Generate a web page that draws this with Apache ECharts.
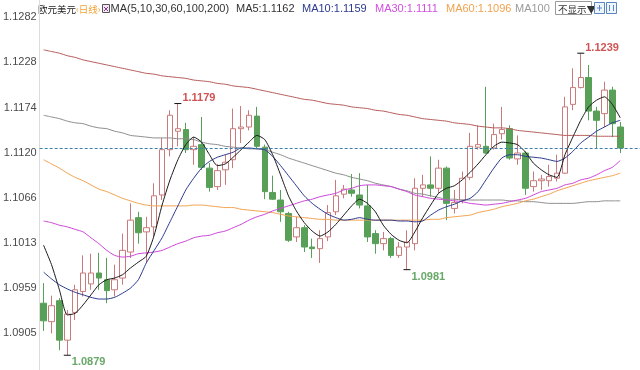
<!DOCTYPE html>
<html><head><meta charset="utf-8">
<script src="https://cdn.jsdelivr.net/npm/echarts@6/dist/echarts.min.js"></script>
<style>html,body{margin:0;padding:0;background:#fff}#c{width:640px;height:370px}</style>
</head><body><div id="c"></div>
<script>
// ---- data (EUR/USD daily) ----
const opens  = [1.0941,1.0919,1.0944,1.0897,1.0930,1.0955,1.0964,1.0977,1.0969,1.0957,1.0971,1.1002,1.1043,1.1026,1.1032,1.1070,1.1124,1.1146,1.1148,1.1124,1.1130,1.1102,1.1080,1.1100,1.1112,1.1149,1.1151,1.1164,1.1127,1.1073,1.1064,1.1048,1.1020,1.1031,1.1008,1.1006,1.1020,1.1050,1.1071,1.1076,1.1070,1.1057,1.1024,1.1012,1.1018,1.0998,1.1008,1.1012,1.1078,1.1082,1.1078,1.1102,1.1054,1.1064,1.1091,1.1127,1.1128,1.1126,1.1143,1.1149,1.1113,1.1120,1.1080,1.1087,1.1087,1.1090,1.1096,1.1178,1.1198,1.1210,1.1170,1.1167,1.1195,1.1151];
const closes = [1.0920,1.0938,1.0897,1.0928,1.0957,1.0977,1.0977,1.0971,1.0956,1.0969,1.1004,1.1040,1.1025,1.1031,1.1069,1.1124,1.1165,1.1149,1.1124,1.1128,1.1103,1.1079,1.1099,1.1109,1.1149,1.1151,1.1165,1.1128,1.1074,1.1065,1.1050,1.1016,1.1031,1.1008,1.1006,1.1018,1.1049,1.1069,1.1077,1.1072,1.1058,1.1020,1.1012,1.1018,1.0998,1.1008,1.1014,1.1078,1.1082,1.1078,1.1102,1.1060,1.1061,1.1090,1.1128,1.1130,1.1120,1.1142,1.1148,1.1114,1.1120,1.1078,1.1087,1.1089,1.1092,1.1096,1.1175,1.1198,1.1210,1.1170,1.1159,1.1195,1.1155,1.1126];
const highs  = [1.0965,1.0950,1.0947,1.0933,1.0963,1.0998,1.1000,1.1001,1.0995,1.0987,1.1024,1.1060,1.1050,1.1044,1.1084,1.1138,1.1171,1.1179,1.1156,1.1139,1.1163,1.1108,1.1107,1.1118,1.1173,1.1176,1.1171,1.1175,1.1130,1.1093,1.1076,1.1050,1.1044,1.1034,1.1018,1.1028,1.1058,1.1088,1.1082,1.1095,1.1096,1.1082,1.1028,1.1026,1.1020,1.1014,1.1028,1.1090,1.1094,1.1116,1.1112,1.1104,1.1076,1.1098,1.1144,1.1153,1.1199,1.1155,1.1175,1.1153,1.1141,1.1122,1.1098,1.1094,1.1106,1.1118,1.1187,1.1221,1.1239,1.1225,1.1175,1.1205,1.1199,1.1157];
const lows   = [1.0908,1.0905,1.0885,1.0879,1.0921,1.0949,1.0957,1.0957,1.0941,1.0949,1.0963,1.0995,1.1012,1.0990,1.1020,1.1064,1.1116,1.1128,1.1120,1.1106,1.1100,1.1074,1.1076,1.1082,1.1102,1.1132,1.1147,1.1126,1.1065,1.1064,1.1038,1.1014,1.1014,1.1002,1.0995,1.0989,1.1015,1.1046,1.1066,1.1068,1.1054,1.1014,1.1000,1.1004,1.0995,1.0995,1.0981,1.1004,1.1068,1.1068,1.1072,1.1040,1.1048,1.1060,1.1088,1.1124,1.1119,1.1124,1.1136,1.1112,1.1106,1.1070,1.1074,1.1076,1.1080,1.1086,1.1095,1.1171,1.1197,1.1159,1.1126,1.1151,1.1139,1.1120];

const ma5   = [1.1010,1.0987,1.0957,1.0927,1.0929,1.0939,1.0951,1.0963,1.0969,1.0971,1.0975,1.0983,1.0990,1.0997,1.1022,1.1058,1.1088,1.1112,1.1130,1.1139,1.1133,1.1118,1.1105,1.1107,1.1115,1.1124,1.1133,1.1141,1.1136,1.1118,1.1094,1.1069,1.1051,1.1037,1.1027,1.1021,1.1026,1.1035,1.1046,1.1057,1.1065,1.1060,1.1050,1.1034,1.1023,1.1016,1.1013,1.1026,1.1043,1.1058,1.1072,1.1078,1.1081,1.1088,1.1097,1.1107,1.1118,1.1128,1.1133,1.1132,1.1130,1.1121,1.1108,1.1100,1.1094,1.1091,1.1118,1.1139,1.1159,1.1175,1.1183,1.1187,1.1178,1.1162];
const ma10  = [1.0978,1.0970,1.0963,1.0958,1.0954,1.0951,1.0948,1.0946,1.0946,1.0948,1.0953,1.0959,1.0969,1.0989,1.1004,1.1019,1.1038,1.1057,1.1076,1.1090,1.1102,1.1110,1.1115,1.1118,1.1121,1.1126,1.1126,1.1125,1.1124,1.1116,1.1105,1.1093,1.1081,1.1069,1.1060,1.1053,1.1047,1.1043,1.1040,1.1041,1.1043,1.1041,1.1040,1.1040,1.1040,1.1039,1.1039,1.1038,1.1039,1.1046,1.1052,1.1056,1.1059,1.1063,1.1066,1.1074,1.1088,1.1102,1.1114,1.1118,1.1118,1.1116,1.1115,1.1114,1.1112,1.1110,1.1114,1.1122,1.1132,1.1139,1.1146,1.1151,1.1156,1.1159];
const ma30  = [1.1039,1.1037,1.1034,1.1032,1.1029,1.1026,1.1019,1.1012,1.1004,1.0998,1.0996,1.0997,1.1000,1.1001,1.1002,1.1004,1.1008,1.1012,1.1015,1.1019,1.1021,1.1022,1.1025,1.1027,1.1031,1.1035,1.1040,1.1044,1.1047,1.1051,1.1054,1.1057,1.1060,1.1063,1.1065,1.1068,1.1070,1.1072,1.1076,1.1078,1.1081,1.1082,1.1082,1.1081,1.1080,1.1077,1.1074,1.1070,1.1068,1.1066,1.1065,1.1064,1.1063,1.1062,1.1060,1.1059,1.1058,1.1059,1.1060,1.1062,1.1064,1.1066,1.1070,1.1074,1.1076,1.1078,1.1082,1.1084,1.1088,1.1090,1.1094,1.1099,1.1103,1.1111];
const ma60  = [1.1112,1.1107,1.1102,1.1096,1.1091,1.1087,1.1082,1.1077,1.1074,1.1070,1.1066,1.1063,1.1060,1.1058,1.1057,1.1057,1.1057,1.1057,1.1057,1.1058,1.1058,1.1057,1.1056,1.1055,1.1055,1.1053,1.1052,1.1051,1.1050,1.1049,1.1047,1.1045,1.1044,1.1043,1.1042,1.1041,1.1041,1.1040,1.1040,1.1040,1.1040,1.1040,1.1040,1.1040,1.1040,1.1040,1.1040,1.1040,1.1040,1.1041,1.1041,1.1043,1.1044,1.1045,1.1046,1.1049,1.1051,1.1053,1.1056,1.1058,1.1060,1.1063,1.1065,1.1068,1.1071,1.1075,1.1078,1.1081,1.1084,1.1087,1.1089,1.1091,1.1093,1.1096];
const ma100 = [1.1165,1.1163,1.1161,1.1158,1.1156,1.1155,1.1152,1.1150,1.1149,1.1146,1.1144,1.1141,1.1140,1.1139,1.1138,1.1138,1.1138,1.1137,1.1137,1.1136,1.1133,1.1131,1.1130,1.1128,1.1127,1.1126,1.1125,1.1125,1.1124,1.1121,1.1118,1.1114,1.1111,1.1108,1.1105,1.1102,1.1099,1.1096,1.1094,1.1091,1.1089,1.1087,1.1084,1.1082,1.1080,1.1077,1.1075,1.1072,1.1071,1.1069,1.1067,1.1065,1.1065,1.1064,1.1064,1.1064,1.1064,1.1064,1.1064,1.1063,1.1063,1.1062,1.1062,1.1061,1.1060,1.1060,1.1060,1.1060,1.1061,1.1062,1.1062,1.1063,1.1063,1.1063];
const ma200 = [1.1243,1.1241,1.1239,1.1236,1.1234,1.1231,1.1229,1.1227,1.1225,1.1223,1.1221,1.1219,1.1217,1.1215,1.1214,1.1212,1.1211,1.1210,1.1209,1.1207,1.1206,1.1205,1.1203,1.1202,1.1200,1.1199,1.1198,1.1196,1.1194,1.1192,1.1190,1.1188,1.1186,1.1184,1.1183,1.1181,1.1179,1.1178,1.1177,1.1175,1.1174,1.1173,1.1171,1.1170,1.1168,1.1166,1.1165,1.1163,1.1161,1.1160,1.1159,1.1158,1.1156,1.1155,1.1154,1.1152,1.1151,1.1150,1.1150,1.1149,1.1147,1.1146,1.1145,1.1144,1.1143,1.1142,1.1141,1.1141,1.1141,1.1141,1.1140,1.1140,1.1140,1.1140];

const yTicks = [1.0905, 1.0959, 1.1013, 1.1066, 1.1120, 1.1174, 1.1228, 1.1282];
const extremes = [
  {idx: 17, value: 1.1179, kind: 'high'},
  {idx: 68, value: 1.1239, kind: 'high'},
  {idx: 3,  value: 1.0879, kind: 'low'},
  {idx: 46, value: 1.0981, kind: 'low'}
];
const lastPrice = 1.1126;
const legendItems = [
  {text: 'MA5:1.1162',  color: '#333333', x: 236},
  {text: 'MA10:1.1159', color: '#2b3990', x: 302},
  {text: 'MA30:1.1111', color: '#d24fe0', x: 375},
  {text: 'MA60:1.1096', color: '#f2a24e', x: 446},
  {text: 'MA100',       color: '#9a9a9a', x: 515}
];

// ---- build ----
const slots = opens.length + 2;               // two empty slots at right edge
const cats = [];
for (let i = 0; i < slots; i++) cats.push('d' + (i + 1));
const candles = opens.map((o, i) => [o, closes[i], lows[i], highs[i]]);

const RED = '#c97a7a', GREEN = '#58a058';
function maSeries(name, data, color, extra) {
  return Object.assign({name, type: 'line', data, symbol: 'none', smooth: 0.2,
          lineStyle: {width: 1, color}, silent: true, animation: false, z: 3}, extra || {});
}
const latin = 'Liberation Sans, Arial, sans-serif';
const cjk = 'Noto Sans CJK SC, sans-serif';
function txt(x, text, color, font) {
  return {type: 'text', x, y: 9, silent: true,
          style: {text, fill: color, font, textVerticalAlign: 'middle', verticalAlign: 'middle'}};
}
const graphics = [
  txt(38, '欧元美元', '#222', '9.5px ' + cjk),
  txt(76, '‹日线›', '#f0a030', '9.5px ' + cjk),
  {type: 'rect', shape: {x: 102.5, y: 4.5, width: 7, height: 8},
   style: {fill: '#f4e6f4', stroke: '#555', lineWidth: 1}, silent: true},
  {type: 'line', shape: {x1: 104, y1: 7, x2: 108, y2: 11}, style: {stroke: '#8a3a8a', lineWidth: 1}, silent: true},
  {type: 'line', shape: {x1: 108, y1: 7, x2: 104, y2: 11}, style: {stroke: '#8a3a8a', lineWidth: 1}, silent: true},
  txt(110.5, 'MA(5,10,30,60,100,200)', '#333', '11px ' + latin),
  {type: 'rect', shape: {x: 555.5, y: 1.5, width: 36, height: 13},
   style: {fill: '#fff', stroke: '#9a9a9a', lineWidth: 1}, silent: true},
  txt(558, '不显示▼', '#333', '9.5px ' + cjk),
  {type: 'rect', shape: {x: 594.5, y: 2.5, width: 10, height: 11},
   style: {fill: '#eef4fb', stroke: '#5b86c0', lineWidth: 1}, silent: true},
  {type: 'rect', shape: {x: 606.5, y: 2.5, width: 10, height: 11},
   style: {fill: '#eef4fb', stroke: '#5b86c0', lineWidth: 1}, silent: true},
  {type: 'line', shape: {x1: 597, y1: 8, x2: 602, y2: 8}, style: {stroke: '#5b86c0'}, silent: true},
  {type: 'line', shape: {x1: 599.5, y1: 5, x2: 599.5, y2: 11}, style: {stroke: '#5b86c0'}, silent: true},
  {type: 'line', shape: {x1: 609.5, y1: 5, x2: 609.5, y2: 11}, style: {stroke: '#5b86c0'}, silent: true},
  {type: 'line', shape: {x1: 613.5, y1: 5, x2: 613.5, y2: 11}, style: {stroke: '#5b86c0'}, silent: true}
];
legendItems.forEach(it => graphics.push(txt(it.x, it.text, it.color, '11px ' + latin)));

const chart = echarts.init(document.getElementById('c'), null, {renderer: 'canvas'});
chart.setOption({
  animation: false,
  backgroundColor: '#ffffff',
  grid: {left: 35.7, top: 0, width: 605, height: 370, containLabel: false},
  xAxis: {type: 'category', data: cats, boundaryGap: true, show: false},
  yAxis: {
    type: 'value', min: 1.08614, max: 1.13024, scale: true,
    splitLine: {show: false},
    axisLine: {show: true, lineStyle: {color: '#dcdcdc', width: 1}},
    axisTick: {show: false},
    axisLabel: {customValues: yTicks, formatter: v => v.toFixed(4), color: '#4a4a4a',
                fontSize: 11, fontFamily: latin, margin: 3}
  },
  graphic: graphics,
  series: [
    {
      name: 'EURUSD', type: 'candlestick', data: candles, barWidth: 6, z: 2,
      itemStyle: {color: '#ffffff', color0: GREEN, borderColor: RED, borderColor0: GREEN, borderWidth: 1},
      markPoint: {
        silent: true, symbol: 'rect', symbolSize: [7, 1],
        itemStyle: {color: '#111'},
        data: extremes.map(e => ({
          coord: [e.idx, e.value], value: e.value,
          label: {show: true, position: 'right', distance: 1,
                  offset: [0, e.kind === 'high' ? -5.5 : 7],
                  formatter: p => Number(p.value).toFixed(4),
                  color: e.kind === 'high' ? '#cf5454' : '#68a868',
                  fontSize: 11, fontWeight: 'bold', fontFamily: latin}
        }))
      }
    },
    maSeries('MA200', ma200, '#b65a5a', {
      markLine: {
        silent: true, precision: 4, symbol: ['none', 'none'], label: {show: false},
        lineStyle: {color: '#3b7fab', type: [3, 2], width: 1},
        data: [{yAxis: lastPrice}]
      }
    }),
    maSeries('MA100', ma100, '#8c8c8c'),
    maSeries('MA60', ma60, '#f2a24e'),
    maSeries('MA30', ma30, '#cc44d8'),
    maSeries('MA10', ma10, '#2b3990'),
    maSeries('MA5', ma5, '#1a1a1a')
  ]
});
</script></body></html>
